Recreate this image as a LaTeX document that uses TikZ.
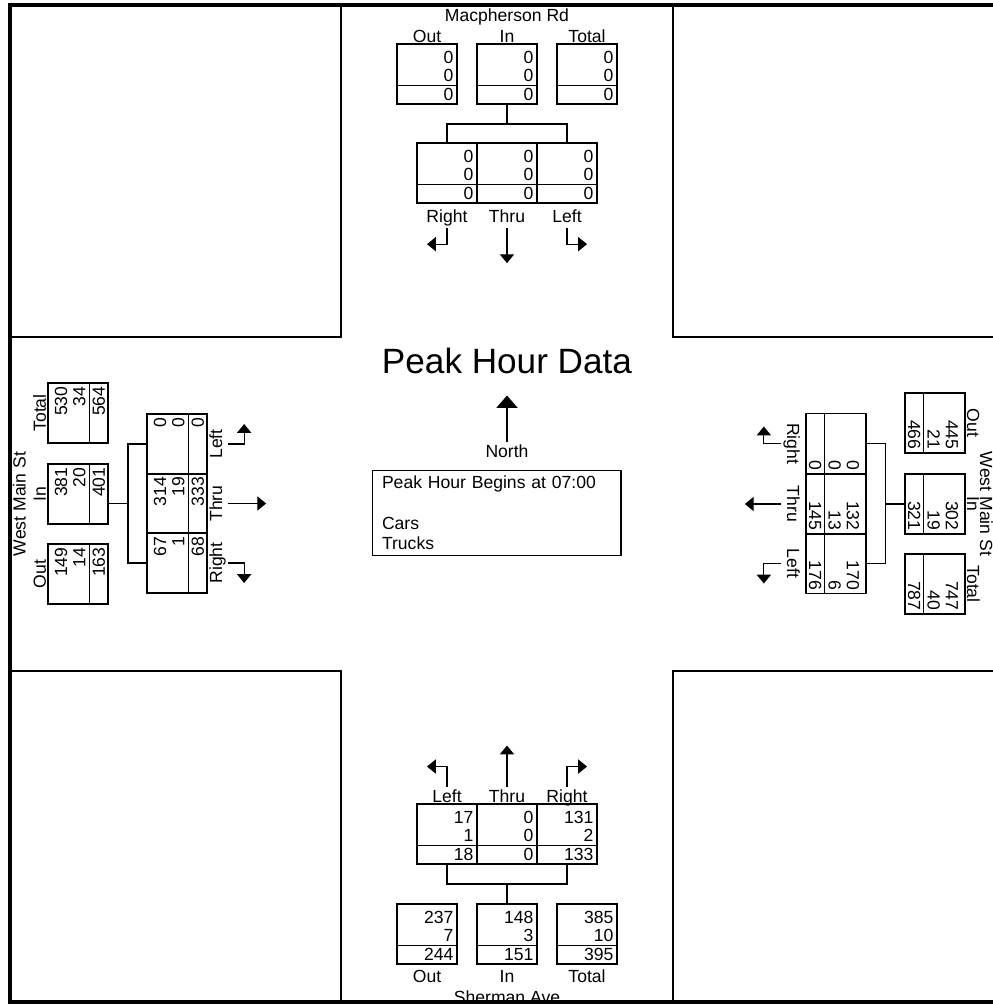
\documentclass[tikz,border=0pt]{standalone}
\usepackage{fontspec}
\setmainfont{Liberation Sans}
\usetikzlibrary{
	arrows.meta,
	calc
}

\begin{document}
\begin{tikzpicture}[x=0.02cm,y=-0.02cm,line width=0.6pt,
		every node/.style={font=\fontsize{10}{11.2}\selectfont},
		cell/.style={draw,minimum size=1.2cm,inner sep=0pt},
		num/.style={inner xsep=2pt,inner ysep=0pt,anchor=base east},
		lab/.style={inner sep=1pt,text height=7.5pt,text depth=2.2pt,anchor=base},
		turn/.style={-{Triangle[length=5pt,width=8pt]}}]
				
				\useasboundingbox (0,0) rectangle (993,1005);
				\clip (0,0) rectangle (993,1005);
				
				% Corner blocks
				\draw (10,337) -| (341,5);
				\draw (673,5) |- (1010,337);
				\draw (10,671) -| (341,1002);
				\draw (673,1002) |- (1010,671);
				
				% Count cells
				\foreach \nm/\px/\py/\r/\a/\b/\c in {
					n-out/427/74/0/0/0/0, n-in/507/74/0/0/0/0, n-tot/587/74/0/0/0/0,
					n-r/447/173/0/0/0/0, n-t/507/173/0/0/0/0, n-l/567/173/0/0/0/0,
					s-l/447/834/0/17/1/18, s-t/507/834/0/0/0/0, s-r/567/834/0/131/2/133,
					s-out/427/934/0/237/7/244, s-in/507/934/0/148/3/151, s-tot/587/934/0/385/10/395,
					w-tot/78/413/90/530/34/564, w-in/78/494/90/381/20/401, w-out/78/574/90/149/14/163,
					w-l/177/444/90/0/0/0, w-t/177/503.5/90/314/19/333, w-r/177/563/90/67/1/68,
					e-out/935/423/-90/445/21/466, e-in/935/504/-90/302/19/321, e-tot/935/584/-90/747/40/787,
					e-r/836/443.5/-90/0/0/0, e-t/836/504/-90/132/13/145, e-l/836/563.5/-90/170/6/176}
				{
					\node[cell,rotate=\r] (\nm) at (\px,\py) {};
					\draw ($(\nm.north west)!.69!(\nm.south west)$) -- ($(\nm.north east)!.69!(\nm.south east)$);
					\node[num,rotate=\r] at ($(\nm.north east)!.32!(\nm.south east)$) {\a};
					\node[num,rotate=\r] at ($(\nm.north east)!.62!(\nm.south east)$) {\b};
					\node[num,rotate=\r] at ($(\nm.north east)!.94!(\nm.south east)$) {\c};
				}
				
				% Labels
				\foreach \nm/\txt/\px/\py/\r in {
					n-st/Macpherson Rd/507/21.5/0, n-outl/Out/427/42/0, n-inl/In/507/42/0, n-totl/Total/587/42/0,
					n-rt/Right/447/222/0, n-tt/Thru/507/222/0, n-lt/Left/567/222/0,
					s-lt/Left/447/802/0, s-tt/Thru/507/802/0, s-rt/Right/567/802/0,
					s-outl/Out/427/982/0, s-inl/In/507/982/0, s-totl/Total/587/982/0, s-st/Sherman Ave/507/1003/0,
					w-st/West Main St/25.5/504/90, w-totl/Total/46/413/90, w-inl/In/46/494/90, w-outl/Out/46/574/90,
					w-lt/Left/222/444/90, w-tt/Thru/222/503.5/90, w-rt/Right/222/563/90,
					e-st/West Main St/980/504/-90, e-outl/Out/967/423/-90, e-inl/In/967/504/-90, e-totl/Total/967/584/-90,
					e-rt/Right/787/443.5/-90, e-tt/Thru/787/504/-90, e-lt/Left/787/563.5/-90}
				{
					\node[lab,rotate=\r] (\nm) at (\px,\py) {\txt};
				}
				
				% North approach
				\coordinate (n-bar) at (507,124);
				\draw (n-in.south) -- (n-bar);
				\draw (n-r.north) |- (n-bar) -| (n-l.north);
				\draw[turn] (n-rt.south) -- ++(0,16) -- ++(-20,0);
				\draw[turn] (n-tt.south) -- ++(0,35);
				\draw[turn] (n-lt.south) -- ++(0,16) -- ++(20,0);
				
				% South approach
				\coordinate (s-bar) at (507,884);
				\draw (s-in.north) -- (s-bar);
				\draw (s-l.south) |- (s-bar) -| (s-r.south);
				\draw[turn] (s-lt.north) -- ++(0,-20) -- ++(-20,0);
				\draw[turn] (s-tt.north) -- ++(0,-41);
				\draw[turn] (s-rt.north) -- ++(0,-20) -- ++(20,0);
				
				% West approach
				\coordinate (w-bar) at (128,503.5);
				\draw (w-in.south |- w-bar) -- (w-bar);
				\draw (w-r.north) -| (w-bar) |- (w-l.north);
				\draw[turn] (w-lt.south) -- ++(16,0) -- ++(0,-20);
				\draw[turn] (w-tt.south) -- ++(38,0);
				\draw[turn] (w-rt.south) -- ++(16,0) -- ++(0,20);
				
				% East approach
				\coordinate (e-bar) at (885.5,504);
				\draw (e-in.south) -- (e-bar);
				\draw (e-r.north) -| (e-bar) |- (e-l.north);
				\draw[turn] (e-rt.south) -- ++(-17,0) -- ++(0,-17);
				\draw[turn] (e-tt.south) -- ++(-36,0);
				\draw[turn] (e-lt.south) -- ++(-17,0) -- ++(0,20);
				
				% Centre
				\node[anchor=base,font=\fontsize{20}{24}\selectfont] (title) at (507,373) {Peak Hour Data};
				\node[lab] (north) at (507,457) {North};
				\draw[-{Triangle[length=7pt,width=12pt]}] (north.north) -- ++(0,-46);
				\node[draw,minimum width=4.98cm,minimum height=1.56cm,inner xsep=0.2cm,
					text width=4.58cm,align=left,font=\fontsize{10}{11.6}\selectfont] (info) at (496.5,513)
					{Peak Hour Begins at 07:00\\[11.6pt]Cars\\Trucks};
				
				% Frame
				\draw[line width=2.3pt] (1010,5) -- (10,5) -- (10,1002) -- (1010,1002);
				
			\end{tikzpicture}
\end{document}
